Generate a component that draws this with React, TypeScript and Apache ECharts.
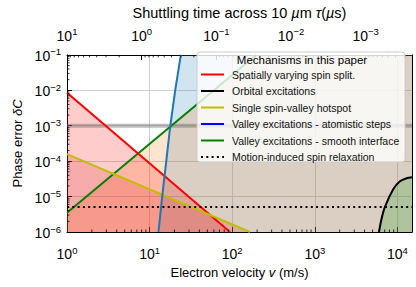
import React, { useEffect, useRef } from "react";
import * as echarts from "echarts";

const FONT = '"Liberation Sans", Arial, Helvetica, sans-serif';
const lg = Math.log10;

// axis ranges
const velocityMin = 1;
const velocityMax = 15000;
const errorMin = 1e-6;
const errorMax = 1e-1;
const tauSpanDecades = 4.62; // top axis: tau from 10^1 down over this many decades

// tick labels (exponents of 10)
const xTickExponents = ["0", "1", "2", "3", "4"];
const yTickExponents = ["\u22126", "\u22125", "\u22124", "\u22123", "\u22122", "\u22121"];
const topTickExponents = ["1", "0", "\u22121", "\u22122", "\u22123"];

// series (velocity m/s, phase error)
const spinSplitV = [1, 94];
const spinSplitErr = [8.5e-3, 1e-6];
const hotspotV = [1, 164];
const hotspotErr = [1.58e-4, 1e-6];
const smoothV = [1, 195];
const smoothErr = [3.5e-6, 1e-1];
const stepsV = [12.8, 14.2, 15.9, 17.8, 20.4, 23.9];
const stepsErr = [1e-6, 1e-5, 1e-4, 1e-3, 1e-2, 1e-1];
const orbitalV = [5975, 6400, 7060, 8890, 10720, 12920, 14970];
const orbitalErr = [1e-6, 2.3e-6, 5.1e-6, 1.6e-5, 2.7e-5, 3.3e-5, 3.5e-5];
const relaxationErr = 5.1e-6;
const thresholdErr = 1e-3;

const names = [
  "Spatially varying spin split.",
  "Orbital excitations",
  "Single spin-valley hotspot",
  "Valley excitations - atomistic steps",
  "Valley excitations - smooth interface",
  "Motion-induced spin relaxation",
];

const pts = (vs: number[], es: number[]) => vs.map((v, i) => [lg(v), lg(es[i])]);

const decadeMinorPositions = (from: number, to: number) => {
  const out: number[] = [];
  for (let n = Math.floor(from) - 1; n <= Math.ceil(to); n++) {
    for (let k = 2; k <= 9; k++) {
      const p = n + lg(k);
      if (p > from + 1e-6 && p < to - 1e-6) out.push(p);
    }
  }
  return out;
};

const richLabel = {
  b: { fontSize: 14, fontFamily: FONT, color: "#000", lineHeight: 16, verticalAlign: "bottom", padding: [4, 0, 0, 0] },
  s: { fontSize: 9.5, fontFamily: FONT, color: "#000", lineHeight: 10, verticalAlign: "top" },
};
const sup = (e: string) => `{b|10}{s|${e}}`;

const nameStyle = (size: number) => ({
  fontSize: size,
  fontFamily: FONT,
  color: "#000",
  rich: { i: { fontSize: size, fontFamily: FONT, color: "#000", fontStyle: "italic" } },
});

export default function App() {
  const ref = useRef<HTMLDivElement>(null);
  useEffect(() => {
    document.body.style.margin = "0";
    const chart = echarts.init(ref.current!, null, { renderer: "svg" });
    const xMaxL = lg(velocityMax);
    const xMinL = lg(velocityMin);
    const yMinL = lg(errorMin);
    const yMaxL = lg(errorMax);

    const fill = (name: string, data: number[][], color: string, smooth: any = false) => ({
      type: "line",
      name,
      data,
      symbol: "none",
      smooth,
      silent: true,
      lineStyle: { width: 0, opacity: 0 },
      areaStyle: { color, origin: "start", opacity: 1 },
      z: 2,
    });
    const line = (name: string, data: number[][], color: string, extra: any = {}) => ({
      type: "line",
      name,
      data,
      symbol: "none",
      showSymbol: false,
      silent: true,
      lineStyle: { color, width: 2, ...extra },
      itemStyle: { color },
      z: 3,
    });

    const minorTick = (xAxisIndex: number, data: number[][], dx: number, dy: number) => ({
      type: "custom",
      xAxisIndex,
      yAxisIndex: 0,
      silent: true,
      clip: false,
      z: 6,
      data,
      renderItem: (_p: any, api: any) => {
        const c = api.coord([api.value(0), api.value(1)]);
        return {
          type: "line",
          shape: { x1: c[0], y1: c[1], x2: c[0] + dx, y2: c[1] + dy },
          style: { stroke: "#000", lineWidth: 0.8 },
        };
      },
    });

    const bottomMinor = decadeMinorPositions(xMinL, xMaxL).map((p) => [p, yMinL]);
    const leftMinor = decadeMinorPositions(yMinL, yMaxL).map((p) => [xMinL, p]);
    // top axis coordinate u = 1 - log10(tau)
    const topMinor = decadeMinorPositions(1 - tauSpanDecades, 1).map((p) => [1 - p, yMaxL]);

    const orbital = pts(orbitalV, orbitalErr);
    const hiddenSymbol = { color: "rgba(0,0,0,0)", borderColor: "rgba(0,0,0,0)", borderWidth: 0 };

    chart.setOption({
      animation: false,
      grid: { left: 67, right: 4, top: 45, bottom: 55 },
      xAxis: [
        {
          type: "value",
          position: "bottom",
          min: xMinL,
          max: xMaxL,
          interval: 1,
          axisLine: { show: true, onZero: false, lineStyle: { color: "#000", width: 1 } },
          axisTick: { show: true, inside: true, length: 5, lineStyle: { color: "#000", width: 1 } },
          axisLabel: {
            margin: 13,
            showMaxLabel: false,
            formatter: (v: number) => sup(xTickExponents[Math.round(v - xMinL)] ?? ""),
            rich: richLabel,
          },
          splitLine: { show: true, lineStyle: { color: "#d0d0d0", width: 1 } },
          name: "Electron velocity {i|v} (m/s)",
          nameLocation: "middle",
          nameGap: 33,
          nameTextStyle: nameStyle(13),
        },
        {
          type: "value",
          position: "top",
          min: 0,
          max: tauSpanDecades,
          interval: 1,
          axisLine: { show: true, onZero: false, lineStyle: { color: "#000", width: 1 } },
          axisTick: { show: true, inside: true, length: 5, lineStyle: { color: "#000", width: 1 } },
          axisLabel: {
            margin: 12,
            showMaxLabel: false,
            formatter: (v: number) => sup(topTickExponents[Math.round(v)] ?? ""),
            rich: richLabel,
          },
          splitLine: { show: false },
          name: "Shuttling time across 10 {i|\u00b5}m {i|\u03c4}({i|\u00b5}s)",
          nameLocation: "middle",
          nameGap: 29,
          nameTextStyle: nameStyle(14.5),
        },
      ],
      yAxis: [
        {
          type: "value",
          position: "left",
          min: yMinL,
          max: yMaxL,
          interval: 1,
          axisLine: { show: true, onZero: false, lineStyle: { color: "#000", width: 1 } },
          axisTick: { show: true, inside: true, length: 5, lineStyle: { color: "#000", width: 1 } },
          axisLabel: {
            margin: 6,
            formatter: (v: number) => sup(yTickExponents[Math.round(v - yMinL)] ?? ""),
            rich: richLabel,
          },
          splitLine: { show: true, lineStyle: { color: "#d0d0d0", width: 1 } },
          name: "Phase error {i|\u03b4C}",
          nameLocation: "middle",
          nameGap: 43,
          nameTextStyle: nameStyle(13),
        },
        {
          type: "value",
          position: "right",
          min: yMinL,
          max: yMaxL,
          axisLine: { show: true, onZero: false, lineStyle: { color: "#000", width: 1 } },
          axisTick: { show: false },
          axisLabel: { show: false },
          splitLine: { show: false },
        },
      ],
      legend: {
        orient: "vertical",
        left: 200,
        top: 69,
        padding: 0,
        itemWidth: 23,
        itemHeight: 10,
        itemGap: 5.5,
        selectedMode: false,
        z: 20,
        itemStyle: hiddenSymbol,
        textStyle: { fontSize: 10.5, fontFamily: FONT, color: "#111", padding: [0, 0, 0, 3] },
        data: [
          { name: names[0] },
          { name: names[1] },
          { name: names[2] },
          { name: names[3], lineStyle: { color: "#0000ff" } },
          { name: names[4] },
          { name: names[5] },
        ],
      },
      graphic: [
        {
          type: "rect",
          z: 15,
          shape: { x: 197, y: 52, width: 208, height: 110, r: 3 },
          style: { fill: "rgba(255,255,255,0.8)", stroke: "#cccccc", lineWidth: 1 },
        },
        {
          type: "text",
          z: 21,
          x: 302,
          y: 60,
          style: {
            text: "Mechanisms in this paper",
            fontSize: 11.5,
            fontFamily: FONT,
            fill: "#000",
            align: "center",
            verticalAlign: "middle",
          },
        },
      ],
      series: [
        line("threshold", [[xMinL, lg(thresholdErr)], [xMaxL, lg(thresholdErr)]], "rgba(110,110,110,0.45)", { width: 4 }),
        fill("fill-steps", [...pts(stepsV, stepsErr), [xMaxL, yMaxL]], "rgba(31,119,180,0.2)"),
        fill("fill-smooth", [...pts(smoothV, smoothErr), [xMaxL, yMaxL]], "rgba(255,127,14,0.2)"),
        fill("fill-spin", pts(spinSplitV, spinSplitErr), "rgba(255,0,0,0.2)"),
        fill("fill-hotspot", pts(hotspotV, hotspotErr), "rgba(214,39,40,0.2)"),
        fill("fill-orbital", orbital, "rgba(44,160,44,0.25)", 0.25),
        line(names[4], pts(smoothV, smoothErr), "#008000"),
        line(names[0], pts(spinSplitV, spinSplitErr), "#ff0000"),
        line(names[2], pts(hotspotV, hotspotErr), "#bfbf00"),
        line(names[3], pts(stepsV, stepsErr), "#1f77b4"),
        { ...line(names[1], orbital, "#000000"), smooth: 0.25 },
        line(names[5], [[xMinL, lg(relaxationErr)], [xMaxL, lg(relaxationErr)]], "#000000", { type: [2, 3.3] }),
        minorTick(0, bottomMinor, 0, -2.5),
        minorTick(0, leftMinor, 2.5, 0),
        minorTick(1, topMinor, 0, 2.5),
      ],
    });
    return () => chart.dispose();
  }, []);
  return <div ref={ref} style={{ width: 416, height: 287 }} />;
}
